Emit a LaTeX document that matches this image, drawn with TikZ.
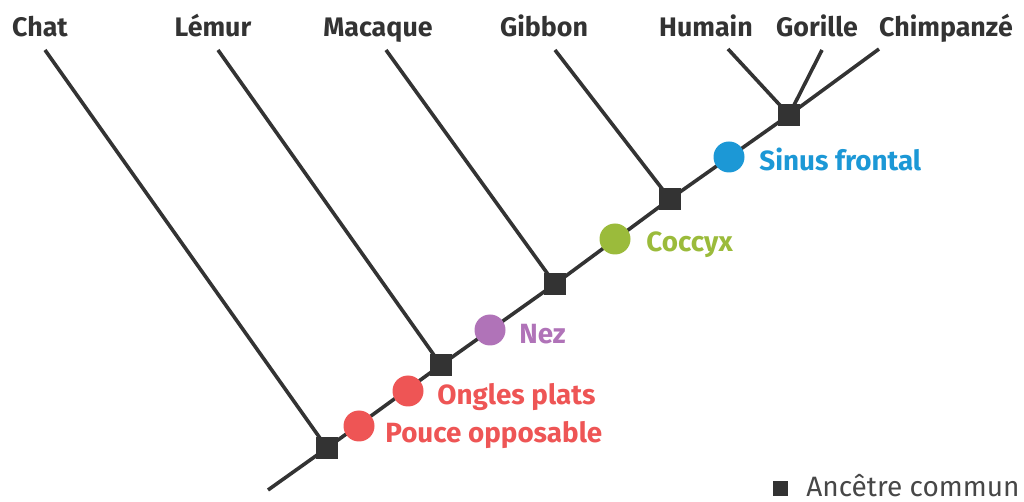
\documentclass[tikz,border=0pt]{standalone}
\usepackage{fontspec}
\setmainfont{Fira Sans}
\definecolor{dk}{HTML}{333333}
\definecolor{rd}{HTML}{EE5555}
\definecolor{pu}{HTML}{B073B8}
\definecolor{gr}{HTML}{9BBB3B}
\definecolor{bl}{HTML}{1C98D6}
\begin{document}
\begin{tikzpicture}[x=0.5pt,y=-0.5pt,
  br/.style={draw=dk,line width=1.8pt},
  anc/.style={rectangle,fill=dk,minimum size=11pt,inner sep=0pt},
  trait/.style={circle,fill=#1,minimum size=15.5pt,inner sep=0pt},
  leaf/.style={anchor=base,font=\fontsize{13.4}{16}\selectfont\bfseries,text=dk,inner sep=0pt},
  tlab/.style={anchor=base west,font=\fontsize{13.9}{16}\selectfont\bfseries,text=#1,inner sep=0pt}]
\useasboundingbox (0,0) rectangle (1024,502);
% ancestors
\coordinate (root) at (268,490);
\node[anc] (a1) at (327,448) {};
\node[anc] (a2) at (441,365) {};
\node[anc] (a3) at (555,284) {};
\node[anc] (a4) at (670,199) {};
\node[anc] (a5) at (789,115) {};
% leaf tips
\coordinate (tChat) at (45,50);
\coordinate (tLem) at (218,50);
\coordinate (tMac) at (386,50);
\coordinate (tGib) at (555,50);
\coordinate (tHum) at (728,49);
\coordinate (tGor) at (822,50);
\coordinate (tChi) at (879,49);
% branches
\draw[br] (root) -- (a1.center) -- (a2.center) -- (a3.center) -- (a4.center) -- (a5.center);
\draw[br] (tChat) -- (a1.center);
\draw[br] (tLem) -- (a2.center);
\draw[br] (tMac) -- (a3.center);
\draw[br] (tGib) -- (a4.center);
\draw[br] (tHum) -- (a5.center);
\draw[br] (tGor) -- (a5.center);
\draw[br] (tChi) -- (a5.center);
% redraw squares on top
\node[anc] at (a1) {};
\node[anc] at (a2) {};
\node[anc] at (a3) {};
\node[anc] at (a4) {};
\node[anc] at (a5) {};
% traits
\node[trait=rd] (c1) at (359,426) {};
\node[trait=rd] (c2) at (408,391) {};
\node[trait=pu] (c3) at (490,330) {};
\node[trait=gr] (c4) at (615,239) {};
\node[trait=bl] (c5) at (729,157) {};
% trait labels
\node[tlab=rd] (l1) at (385,443) {Pouce opposable};
\node[tlab=rd] (l2) at (437,405) {Ongles plats};
\node[tlab=pu] (l3) at (519,344) {Nez};
\node[tlab=gr] (l4) at (646,252) {Coccyx};
\node[tlab=bl] (l5) at (759,171) {Sinus frontal};
% leaf labels
\node[leaf] (nChat) at (40,37) {Chat};
\node[leaf] (nLem) at (213,37) {Lémur};
\node[leaf] (nMac) at (378,37) {Macaque};
\node[leaf] (nGib) at (544,37) {Gibbon};
\node[leaf] (nHum) at (706,37) {Humain};
\node[leaf] (nGor) at (817,37) {Gorille};
\node[leaf] (nChi) at (946,37) {Chimpanzé};
% legend
\node[rectangle,fill=dk,minimum size=7.5pt,inner sep=0pt] (lg) at (780,489) {};
\node[anchor=base west,font=\fontsize{14}{16}\selectfont,text=dk!90,inner sep=0pt] (lgt) at (806,496) {Ancêtre commun};
\end{tikzpicture}
\end{document}
